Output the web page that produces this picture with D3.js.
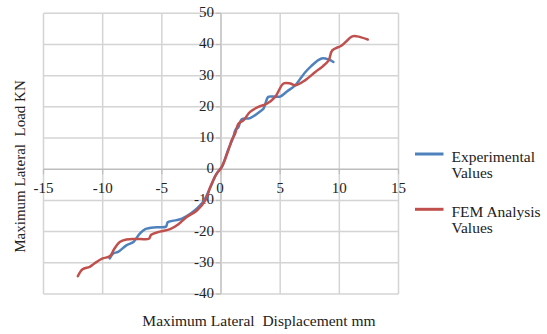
<!DOCTYPE html>
<html>
<head>
<meta charset="utf-8">
<script src="https://cdn.jsdelivr.net/npm/d3@7"></script>
<style>
  html, body { margin: 0; padding: 0; background: #fff; }
  svg { display: block; }
  text { font-family: "Liberation Serif", "Times New Roman", serif; fill: #222; }
</style>
</head>
<body>
<svg id="chart" width="547" height="334"></svg>
<script>
// ---- data ----
const xTicks = [-15, -10, -5, 0, 5, 10, 15];
const yTicks = [-40, -30, -20, -10, 0, 10, 20, 30, 40, 50];

const seriesNames = ["Experimental Values", "FEM Analysis Values"];

const expX = [-9.4, -9.1, -8.7, -8.0, -7.4, -6.9, -6.4, -5.45, -4.65, -4.5, -3.75, -3.3, -2.5, -2.0, -1.4, -0.9, -0.4, 0.1, 0.6, 1.0, 1.25, 1.45, 1.75, 2.46, 3.3, 3.6, 4.0, 4.43, 5.0, 5.6, 6.27, 6.7, 7.1, 7.6, 8.5, 9.1, 9.5];
const expY = [-28.6, -27.0, -26.5, -24.4, -23.3, -20.8, -19.2, -18.6, -18.4, -17.0, -16.3, -15.8, -14.0, -12.5, -9.8, -5.8, -1.6, 1.0, 6.2, 9.8, 12.8, 13.3, 16.0, 16.4, 18.5, 19.5, 23.2, 23.3, 23.3, 25.0, 26.9, 29.0, 31.0, 33.0, 35.5, 35.2, 34.4];

const femX = [-12.1, -11.7, -11.1, -10.7, -10.0, -9.4, -9.0, -8.56, -8.0, -6.86, -6.1, -5.9, -5.17, -4.3, -3.6, -2.9, -2.06, -1.3, -0.93, -0.36, 0.06, 0.62, 0.9, 1.19, 1.47, 1.9, 2.46, 3.16, 3.87, 4.58, 5.28, 5.85, 6.27, 7.1, 7.97, 8.6, 9.1, 9.4, 10.2, 11.1, 11.5, 12.4];
const femY = [-34.3, -32.1, -31.3, -30.2, -28.6, -27.9, -25.4, -23.3, -22.5, -22.4, -22.3, -21.0, -20.0, -19.2, -17.6, -15.3, -13.3, -9.8, -5.9, -1.4, 0.7, 6.1, 9.3, 11.4, 14.6, 15.7, 18.4, 20.0, 21.0, 23.2, 27.5, 27.5, 26.9, 28.5, 31.2, 33.0, 34.9, 38.1, 39.7, 42.6, 42.6, 41.6];

const colors = ["#4F81BD", "#C0504D"];

// ---- chart ----
const svg = d3.select("#chart");
const x = d3.scaleLinear().domain([-15, 15]).range([43.5, 398.5]);
const y = d3.scaleLinear().domain([-40, 50]).range([294, 13.3]);

const gridColor = "#d4d4d4";

// gridlines
svg.append("g").selectAll("line.v").data(xTicks).join("line")
  .attr("x1", d => x(d)).attr("x2", d => x(d))
  .attr("y1", y(50)).attr("y2", y(-40))
  .attr("stroke", d => d === 0 ? "#bdbdbd" : gridColor).attr("stroke-width", 1.5);
svg.append("g").selectAll("line.h").data(yTicks).join("line")
  .attr("x1", x(-15)).attr("x2", x(15))
  .attr("y1", d => y(d)).attr("y2", d => y(d))
  .attr("stroke", d => d === 0 ? "#bdbdbd" : gridColor).attr("stroke-width", 1.5);

// ticks on y axis
svg.append("g").selectAll("line").data(yTicks).join("line")
  .attr("x1", x(0) - 5).attr("x2", x(0))
  .attr("y1", d => y(d)).attr("y2", d => y(d))
  .attr("stroke", "#bdbdbd").attr("stroke-width", 1.2);
svg.append("g").selectAll("line").data(xTicks).join("line")
  .attr("x1", d => x(d)).attr("x2", d => x(d))
  .attr("y1", y(0)).attr("y2", y(0) + 5)
  .attr("stroke", "#bdbdbd").attr("stroke-width", 1.2);

// y tick labels
svg.append("g").selectAll("text").data(yTicks).join("text")
  .attr("x", x(0) - 7).attr("y", d => y(d) + 4)
  .attr("text-anchor", "end").attr("font-size", 15)
  .text(d => d);

// x tick labels
svg.append("g").selectAll("text").data(xTicks).join("text")
  .attr("x", d => x(d) + (d === 0 ? -1 : 0)).attr("y", y(0) + 24)
  .attr("text-anchor", "middle").attr("font-size", 15)
  .text(d => d);

// lines
const line = d3.line().x(d => x(d[0])).y(d => y(d[1])).curve(d3.curveCatmullRom.alpha(0.5));
const expData = d3.zip(expX, expY);
const femData = d3.zip(femX, femY);

svg.append("path").datum(expData).attr("d", line)
  .attr("fill", "none").attr("stroke", colors[0]).attr("stroke-width", 2.5)
  .attr("stroke-linejoin", "round").attr("stroke-linecap", "round");
svg.append("path").datum(femData).attr("d", line)
  .attr("fill", "none").attr("stroke", colors[1]).attr("stroke-width", 2.5)
  .attr("stroke-linejoin", "round").attr("stroke-linecap", "round");

// axis titles
svg.append("text")
  .attr("x", 259).attr("y", 326)
  .attr("text-anchor", "middle").attr("font-size", 15.5)
  .style("white-space", "pre")
  .text("Maximum Lateral  Displacement mm");
svg.append("text")
  .attr("transform", "translate(24.5,166.5) rotate(-90)")
  .attr("text-anchor", "middle").attr("font-size", 15)
  .style("white-space", "pre")
  .text("Maximum Lateral  Load KN");

// legend
const legendY = [154, 209.3];
const legendLines = [["Experimental", "Values"], ["FEM Analysis", "Values"]];
seriesNames.forEach((name, i) => {
  const g = svg.append("g");
  g.append("line")
    .attr("x1", 415).attr("x2", 443.5)
    .attr("y1", legendY[i]).attr("y2", legendY[i])
    .attr("stroke", colors[i]).attr("stroke-width", 3);
  const t = g.append("text").attr("font-size", 15.5);
  legendLines[i].forEach((s, j) => {
    t.append("tspan").attr("x", 451.5).attr("y", legendY[i] + 7.5 + j * 16).text(s);
  });
});
</script>
</body>
</html>
